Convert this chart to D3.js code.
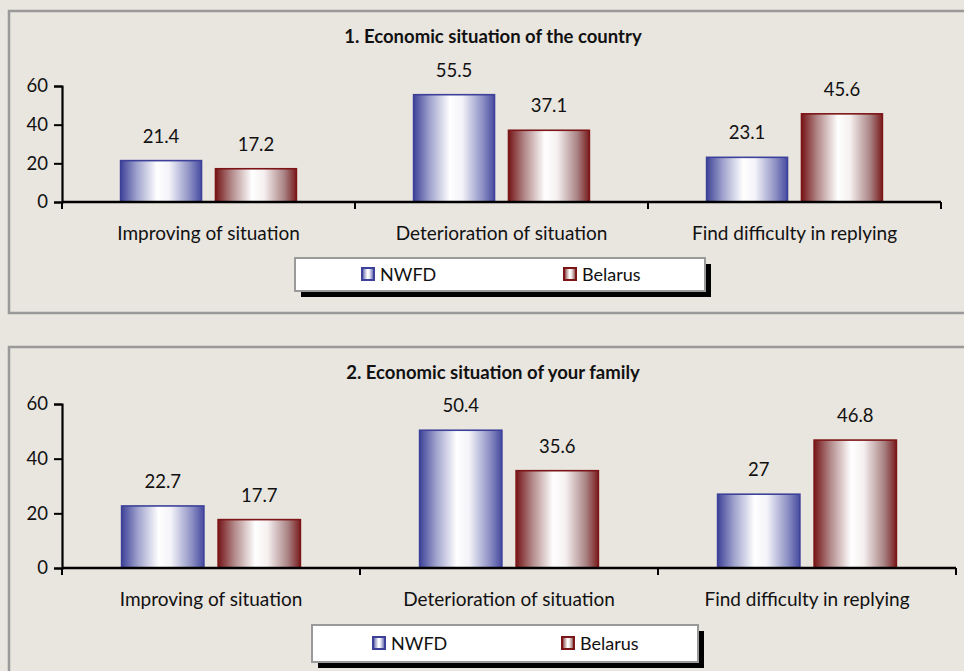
<!DOCTYPE html>
<html>
<head>
<meta charset="utf-8">
<script src="https://cdn.jsdelivr.net/npm/d3@7"></script>
<style>
  html, body { margin: 0; padding: 0; background: #e9e5df; overflow: hidden; }
  svg { display: block; }
  text { font-family: Lato, "Open Sans", sans-serif; fill: #111; }
</style>
</head>
<body>
<svg id="chart" width="964" height="671"></svg>
<script>
// Survey answers, percent of respondents
const categories = ["Improving of situation", "Deterioration of situation", "Find difficulty in replying"];
const seriesNames = ["NWFD", "Belarus"];
const countryNWFD = [21.4, 55.5, 23.1];
const countryBelarus = [17.2, 37.1, 45.6];
const familyNWFD = [22.7, 50.4, 27];
const familyBelarus = [17.7, 35.6, 46.8];
const yTicks = [0, 20, 40, 60];
const panelTitles = ["1. Economic situation of the country", "2. Economic situation of your family"];

const svg = d3.select("#chart");
const defs = svg.append("defs");

// Cylinder-like horizontal gradients for the two series
const gradStops = {
  NWFD: [["0%", "#3f4399"], ["20%", "#9fa2cc"], ["45%", "#ffffff"], ["60%", "#f3f3f9"], ["85%", "#8e91c4"], ["100%", "#474ba0"]],
  Belarus: [["0%", "#761618"], ["20%", "#b38a8b"], ["45%", "#ffffff"], ["60%", "#f6f0f0"], ["85%", "#a98384"], ["100%", "#7a1c1e"]]
};
const strokeCol = { NWFD: "#3d4199", Belarus: "#7c1517" };
seriesNames.forEach(s => {
  const g = defs.append("linearGradient").attr("id", "grad-" + s)
    .attr("x1", "0%").attr("x2", "100%").attr("y1", "0%").attr("y2", "0%");
  gradStops[s].forEach(([o, c]) => g.append("stop").attr("offset", o).attr("stop-color", c));
});

const panels = [
  { title: panelTitles[0], values: [countryNWFD, countryBelarus],
    box: [9, 11, 980, 302], titleY: 43, left: 62, right: 941, y0: 202, yTop: 86,
    legend: { x: 295, y: 258, w: 410, h: 33, items: [361, 563] } },
  { title: panelTitles[1], values: [familyNWFD, familyBelarus],
    box: [9, 347, 980, 360], titleY: 379, left: 62, right: 956, y0: 568, yTop: 404,
    legend: { x: 312, y: 625, w: 386, h: 37, items: [372, 561] } }
];

panels.forEach(p => {
  const g = svg.append("g");

  // panel frame
  g.append("rect").attr("x", p.box[0]).attr("y", p.box[1])
    .attr("width", p.box[2]).attr("height", p.box[3])
    .attr("fill", "none").attr("stroke", "#9a9a9a").attr("stroke-width", 2.5);

  g.append("text").attr("x", 493).attr("y", p.titleY)
    .attr("text-anchor", "middle").attr("font-weight", "bold").attr("font-size", 18.5)
    .text(p.title);

  const x0 = d3.scaleBand().domain(categories).range([p.left, p.right]).padding(0);
  const groupW = x0.bandwidth() * 0.6;
  const x1 = d3.scaleBand().domain(seriesNames).range([0, groupW]).paddingInner(0.1474);
  const y = d3.scaleLinear().domain([0, 60]).range([p.y0, p.yTop]);

  // bars
  categories.forEach((c, i) => {
    const gx = x0(c) + (x0.bandwidth() - groupW) / 2;
    seriesNames.forEach((s, k) => {
      const v = p.values[k][i];
      const bx = gx + x1(s);
      g.append("rect").attr("x", bx).attr("y", y(v))
        .attr("width", x1.bandwidth()).attr("height", y(0) - y(v))
        .attr("fill", `url(#grad-${s})`).attr("stroke", strokeCol[s]).attr("stroke-width", 1.6);
      g.append("text").attr("x", bx + x1.bandwidth() / 2).attr("y", y(v) - 18)
        .attr("text-anchor", "middle").attr("font-size", 18.5).text(v);
    });
  });

  // y axis
  const yAxis = d3.axisLeft(y).tickValues(yTicks).tickSize(8).tickPadding(6).tickFormat(d3.format("d"));
  const ya = g.append("g").attr("transform", `translate(${p.left},0)`).call(yAxis);
  ya.select(".domain").attr("stroke", "#000").attr("stroke-width", 2.2);
  ya.selectAll(".tick line").attr("stroke", "#000").attr("stroke-width", 2);
  ya.selectAll(".tick text").attr("font-size", 18.5).attr("font-family", "Lato, sans-serif").attr("fill", "#111");

  // x axis: ticks at category boundaries
  const bounds = categories.map(c => x0(c)).concat([p.right]);
  g.append("line").attr("x1", p.left).attr("x2", p.right).attr("y1", p.y0).attr("y2", p.y0)
    .attr("stroke", "#000").attr("stroke-width", 2.5);
  g.selectAll(null).data(bounds).join("line")
    .attr("x1", d => d).attr("x2", d => d).attr("y1", p.y0).attr("y2", p.y0 + 7)
    .attr("stroke", "#000").attr("stroke-width", 2);
  g.selectAll(null).data(categories).join("text")
    .attr("x", d => x0(d) + x0.bandwidth() / 2).attr("y", p.y0 + 38)
    .attr("text-anchor", "middle").attr("font-size", 19).text(d => d);

  // legend
  const L = p.legend;
  g.append("rect").attr("x", L.x + 6).attr("y", L.y + 6).attr("width", L.w).attr("height", L.h).attr("fill", "#000");
  g.append("rect").attr("x", L.x).attr("y", L.y).attr("width", L.w).attr("height", L.h)
    .attr("fill", "#fff").attr("stroke", "#9a9a9a").attr("stroke-width", 2);
  const cy = L.y + L.h / 2;
  seriesNames.forEach((s, k) => {
    const sx = L.items[k];
    g.append("rect").attr("x", sx + 1).attr("y", cy - 6.5).attr("width", 12).attr("height", 12)
      .attr("fill", `url(#grad-${s})`).attr("stroke", strokeCol[s]).attr("stroke-width", 2);
    g.append("text").attr("x", sx + 19).attr("y", cy + 6).attr("font-size", 18).text(s);
  });
});
</script>
</body>
</html>
